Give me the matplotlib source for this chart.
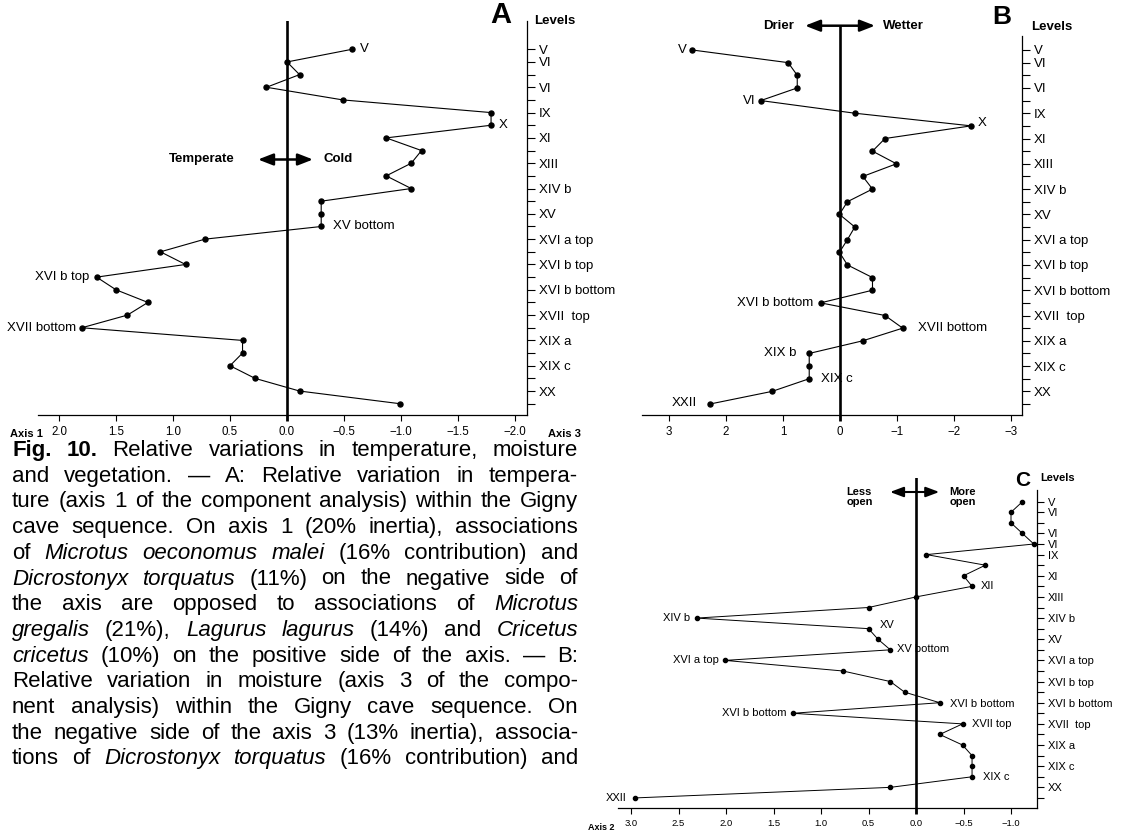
import matplotlib
matplotlib.use('Agg')
import matplotlib.pyplot as plt
import numpy as np

W, H = 1126, 831
plt.rcParams['font.family'] = ['Liberation Sans', 'DejaVu Sans']
plt.rcParams['axes.unicode_minus'] = True

# ---------------- data ----------------
samples = list(range(29))

level_pos_AB = [0, 1, 3, 5, 7, 9, 11, 13, 15, 17, 19, 21, 23, 25, 27]
level_lab_AB = ['V', 'VI', 'VI', 'IX', 'XI', 'XIII', 'XIV b', 'XV', 'XVI a top', 'XVI b top',
                'XVI b bottom', 'XVII  top', 'XIX a', 'XIX c', 'XX']
level_pos_C = [0, 1, 3, 4, 5, 7, 9, 11, 13, 15, 17, 19, 21, 23, 25, 27]
level_lab_C = ['V', 'VI', 'VI', 'VI', 'IX', 'XI', 'XIII', 'XIV b', 'XV', 'XVI a top', 'XVI b top',
               'XVI b bottom', 'XVII  top', 'XIX a', 'XIX c', 'XX']

axis1 = [-0.57, 0.00, -0.11, 0.18, -0.49, -1.79, -1.79, -0.87, -1.18, -1.09, -0.87, -1.09,
         -0.30, -0.30, -0.30, 0.72, 1.11, 0.89, 1.67, 1.50, 1.22, 1.40, 1.80, 0.39, 0.39,
         0.50, 0.28, -0.11, -0.99]
axis3 = [2.59, 0.91, 0.75, 0.75, 1.39, -0.26, -2.30, -0.79, -0.57, -0.99, -0.40, -0.57,
         -0.13, 0.01, -0.26, -0.13, 0.01, -0.13, -0.57, -0.57, 0.34, -0.79, -1.10, -0.40,
         0.54, 0.54, 0.54, 1.19, 2.28]
axis2 = [-1.12, -1.00, -1.00, -1.12, -1.24, -0.11, -0.73, -0.50, -0.59, 0.00, 0.50, 2.31,
         0.50, 0.40, 0.27, 2.01, 0.77, 0.27, 0.12, -0.25, 1.30, -0.49, -0.25, -0.49, -0.59,
         -0.59, -0.59, 0.27, 2.96]

xticks_A = [2.0, 1.5, 1.0, 0.5, 0.0, -0.5, -1.0, -1.5, -2.0]
xticks_B = [3, 2, 1, 0, -1, -2, -3]
xticks_C = [3.0, 2.5, 2.0, 1.5, 1.0, 0.5, 0.0, -0.5, -1.0]

# point labels: (sample index, text, dx px, dy px, ha)
plabels_A = [(0, 'V', 8, 0, 'left'), (6, 'X', 8, 0, 'left'), (14, 'XV bottom', 12, 0, 'left'),
             (18, 'XVI b top', -7, 0, 'right'), (22, 'XVII bottom', -6, 0, 'right')]
plabels_B = [(0, 'V', -6, 0, 'right'), (4, 'VI', -5, 0, 'right'), (6, 'X', 7, -3, 'left'),
             (20, 'XVI b bottom', -7, 0, 'right'), (22, 'XVII bottom', 15, 0, 'left'),
             (24, 'XIX b', -13, 0, 'right'), (26, 'XIX c', 12, 0, 'left'),
             (28, 'XXII', -13, -1, 'right')]
plabels_C = [(8, 'XII', 9, 0, 'left'), (11, 'XIV b', -6, 0, 'right'), (12, 'XV', 11, -4, 'left'),
             (14, 'XV bottom', 7, -1, 'left'), (15, 'XVI a top', -6, 0, 'right'),
             (19, 'XVI b bottom', 10, 1, 'left'), (20, 'XVI b bottom', -6, 0, 'right'),
             (21, 'XVII top', 9, 0, 'left'), (26, 'XIX c', 11, 0, 'left'),
             (28, 'XXII', -8, 0, 'right')]

caption = [
    [('Fig. 10.', 'b'), ('Relative variations in temperature, moisture', 'n')],
    [('and vegetation. — A: Relative variation in tempera-', 'n')],
    [('ture (axis 1 of the component analysis) within the Gigny', 'n')],
    [('cave sequence. On axis 1 (20% inertia), associations', 'n')],
    [('of', 'n'), ('Microtus oeconomus malei', 'i'), ('(16% contribution) and', 'n')],
    [('Dicrostonyx torquatus', 'i'), ('(11%) on the negative side of', 'n')],
    [('the axis are opposed to associations of', 'n'), ('Microtus', 'i')],
    [('gregalis', 'i'), ('(21%),', 'n'), ('Lagurus lagurus', 'i'), ('(14%) and', 'n'), ('Cricetus', 'i')],
    [('cricetus', 'i'), ('(10%) on the positive side of the axis. — B:', 'n')],
    [('Relative variation in moisture (axis 3 of the compo-', 'n')],
    [('nent analysis) within the Gigny cave sequence. On', 'n')],
    [('the negative side of the axis 3 (13% inertia), associa-', 'n')],
    [('tions of', 'n'), ('Dicrostonyx torquatus', 'i'), ('(16% contribution) and', 'n')],
]

# ---------------- figure ----------------
fig = plt.figure(figsize=(W / 100, H / 100), dpi=100)


def fmt(v, dec):
    s = f'{abs(v):.{dec}f}'
    if v < 0:
        s = '\u2212' + s
    return s


def make_panel(box, x_at, y_at, spine_top, values, xticks, dec, lev_pos, lev_lab,
               fs, ms, lw, tlen, plabels, axis_name, axis_label_x):
    x0, y0, x1, y1 = box
    ax = fig.add_axes([x0 / W, 1 - y1 / H, (x1 - x0) / W, (y1 - y0) / H])
    pz, pu = x_at
    ax.set_xlim((pz - x0) / pu, (pz - x1) / pu)
    py0, pdy = y_at
    ax.set_ylim((y1 - py0) / pdy, (y0 - py0) / pdy)
    for s in ['top', 'left']:
        ax.spines[s].set_visible(False)
    for s in ['bottom', 'right']:
        ax.spines[s].set_linewidth(0.9)
    ax.spines['right'].set_bounds((y1 - py0) / pdy, (spine_top - py0) / pdy)
    ax.patch.set_visible(False)

    ax.yaxis.tick_right()
    ax.set_yticks(samples)
    labs = [''] * len(samples)
    for p, l in zip(lev_pos, lev_lab):
        labs[p] = l
    ax.set_yticklabels(labs)
    ax.tick_params(axis='y', direction='out', length=tlen, width=0.8, labelsize=fs, pad=3)

    ax.set_xticks(xticks)
    ax.set_xticklabels([fmt(v, dec) for v in xticks])
    ax.tick_params(axis='x', direction='out', length=4, width=0.8, labelsize=fs - 1.2, pad=4)
    for t, v in zip(ax.xaxis.get_major_ticks(), xticks):
        if v == 0:
            t.tick1line.set_markeredgewidth(2.0)

    ax.axvline(0, color='k', lw=1.9, zorder=2)
    ax.plot(values, samples, color='k', lw=lw, marker='o', ms=ms, zorder=3, clip_on=False)

    for i, txt, dx, dy, ha in plabels:
        ax.annotate(txt, xy=(values[i], samples[i]), xytext=(dx, -dy), textcoords='offset pixels',
                    ha=ha, va='center', fontsize=fs)
    fig.text(axis_label_x / W, 1 - (y1 + 19) / H, axis_name, fontsize=fs - 1.5, fontweight='bold',
             ha='left', va='center')
    return ax


axA = make_panel((38, 20.7, 527, 415), (287, 114), (49.3, 12.657), 20.7, axis1, xticks_A, 1,
                 level_pos_AB, level_lab_AB, 9.5, 3.6, 0.8, 5.5, plabels_A, 'Axis 1', 10)
axB = make_panel((641.7, 25.7, 1021.7, 415), (840, 57), (50, 12.643), 36, axis3, xticks_B, 0,
                 level_pos_AB, level_lab_AB, 9.5, 3.6, 0.8, 5.5, plabels_B, 'Axis 3', 548)
axC = make_panel((618, 478, 1037.3, 808), (916, 95), (501.7, 10.58), 490, axis2, xticks_C, 1,
                 level_pos_C, level_lab_C, 8, 3.0, 0.7, 4.8, plabels_C, 'Axis 2', 588)


def ftext(x, y, s, **kw):
    fig.text(x / W, 1 - y / H, s, **kw)


def darrow(xl, xr, y, lw=1.8, hl=0.9, hw=0.35):
    fig.add_artist(matplotlib.patches.FancyArrowPatch(
        (xl / W, 1 - y / H), (xr / W, 1 - y / H), transform=fig.transFigure,
        arrowstyle=f'<|-|>,head_length={hl},head_width={hw}', lw=lw, color='k',
        mutation_scale=10, shrinkA=0, shrinkB=0))


ftext(501, 15, 'A', fontsize=21, fontweight='bold', ha='center', va='center')
ftext(1002, 17, 'B', fontsize=19, fontweight='bold', ha='center', va='center')
ftext(1022.5, 480, 'C', fontsize=15, fontweight='bold', ha='center', va='center')
ftext(534, 21, 'Levels', fontsize=9.5, fontweight='bold', ha='left', va='center')
ftext(1030.7, 27.5, 'Levels', fontsize=9.5, fontweight='bold', ha='left', va='center')
ftext(1040.7, 478, 'Levels', fontsize=8, fontweight='bold', ha='left', va='center')

darrow(258, 313, 159.5)
ftext(234.5, 159, 'Temperate', fontsize=9.5, fontweight='bold', ha='right', va='center')
ftext(323, 159, 'Cold', fontsize=9.5, fontweight='bold', ha='left', va='center')

darrow(805, 875, 25.7)
ftext(793.5, 26, 'Drier', fontsize=9.5, fontweight='bold', ha='right', va='center')
ftext(883.3, 26, 'Wetter', fontsize=9.5, fontweight='bold', ha='left', va='center')

darrow(890, 939.3, 492, lw=1.5, hl=0.8, hw=0.3)
ftext(846.7, 497, 'Less\nopen', fontsize=8, fontweight='bold', ha='left', va='center',
      multialignment='left', linespacing=1.05)
ftext(949.3, 497, 'More\nopen', fontsize=8, fontweight='bold', ha='left', va='center',
      multialignment='left', linespacing=1.05)

# ---------------- caption (justified) ----------------
cap_x0, cap_x1 = 12, 578
cap_y0, cap_dy = 456, 25.7
cap_fs = 16
renderer = fig.canvas.get_renderer()
for li, segs in enumerate(caption):
    words = []
    for txt, st in segs:
        for w in txt.split(' '):
            if w:
                words.append((w, st))
    arts = []
    total = 0
    for w, st in words:
        t = fig.text(0, 0, w, fontsize=cap_fs, ha='left', va='baseline',
                     fontweight='bold' if st == 'b' else 'normal',
                     fontstyle='italic' if st == 'i' else 'normal')
        wd = t.get_window_extent(renderer).width
        arts.append((t, wd))
        total += wd
    gap = (cap_x1 - cap_x0 - total) / max(len(words) - 1, 1)
    x = cap_x0
    y = cap_y0 + li * cap_dy
    for t, wd in arts:
        t.set_position((x / W, 1 - y / H))
        x += wd + gap

fig.savefig('out.png', dpi=100)
